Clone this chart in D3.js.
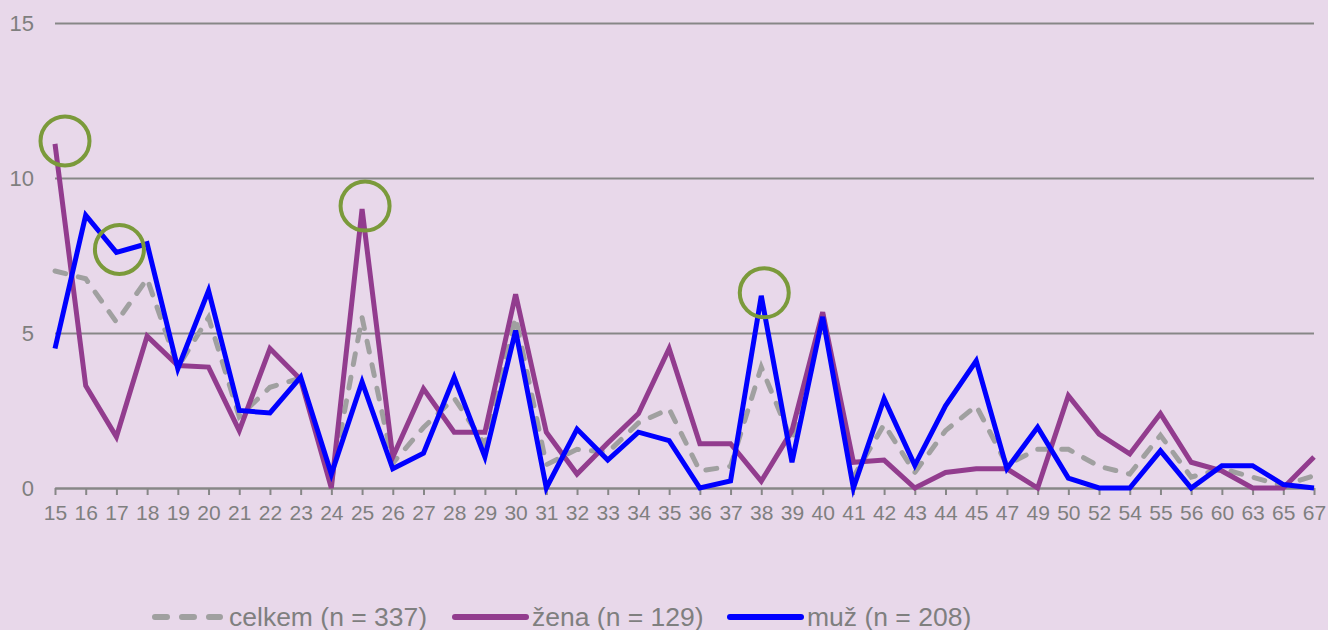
<!DOCTYPE html>
<html>
<head>
<meta charset="utf-8">
<script src="https://cdn.jsdelivr.net/npm/d3@7"></script>
<style>
  html, body { margin: 0; padding: 0; background: #e8d8ea; }
  svg { display: block; font-family: "Liberation Sans", Arial, sans-serif; }
</style>
</head>
<body>
<svg id="chart" width="1328" height="630"></svg>
<script>
// age categories on the x axis
var ages = ["15","16","17","18","19","20","21","22","23","24","25","26","27","28","29","30",
  "31","32","33","34","35","36","37","38","39","40","41","42","43","44","45","47","49","50",
  "52","54","55","56","60","63","65","67"];

// series values (%)
var celkem = [7.0,6.75,5.35,6.75,3.9,5.5,2.3,3.25,3.55,0.2,5.5,0.8,1.95,2.9,1.4,5.5,
  0.75,1.25,1.15,2.1,2.55,0.55,0.7,3.9,1.5,5.6,0.35,2.05,0.5,1.85,2.65,0.75,1.25,1.25,
  0.7,0.45,1.7,0.35,0.62,0.35,0.07,0.4];
var zena = [11.1,3.3,1.65,4.9,3.95,3.9,1.85,4.5,3.5,0,9.0,1.0,3.2,1.8,1.8,6.25,
  1.8,0.45,1.45,2.4,4.5,1.43,1.43,0.22,1.85,5.67,0.83,0.9,0,0.5,0.62,0.62,0,2.98,
  1.74,1.1,2.4,0.83,0.55,0,0,1.0];
var muz = [4.5,8.8,7.6,7.88,3.85,6.37,2.5,2.42,3.58,0.45,3.42,0.62,1.12,3.57,1.0,5.08,
  0,1.9,0.9,1.8,1.53,0,0.23,6.2,0.83,5.52,0,2.88,0.73,2.65,4.1,0.62,1.96,0.32,
  0,0,1.2,0,0.72,0.72,0.11,0];

var yTicks = [0, 5, 10, 15];

// highlighted peaks
var highlights = [
  { age: "15", series: "zena" },
  { age: "17", series: "muz" },
  { age: "25", series: "zena" },
  { age: "38", series: "muz" }
];

var series = [
  { key: "celkem", label: "celkem (n = 337)", values: celkem, color: "#a0a0a0", dash: "11,13" },
  { key: "zena",   label: "žena (n = 129)",   values: zena,   color: "#923c8e", dash: null },
  { key: "muz",    label: "muž (n = 208)",    values: muz,    color: "#0000ff", dash: null }
];

var svg = d3.select("#chart");
var plotLeft = 55, plotRight = 1314, plotTop = 23, plotBottom = 488;

var x = d3.scalePoint().domain(ages).range([plotLeft, plotRight]).padding(0);
var y = d3.scaleLinear().domain([0, 15]).range([plotBottom, plotTop]);

// horizontal gridlines + y labels
var yAxis = svg.append("g")
  .attr("transform", "translate(" + plotLeft + ",0)")
  .call(d3.axisLeft(y).tickValues(yTicks).tickSize(-(plotRight - plotLeft)).tickPadding(21));
yAxis.select(".domain").remove();
yAxis.selectAll("line").attr("stroke", "#878787").attr("stroke-width", 2);
yAxis.selectAll("text").attr("fill", "#7f7f7f").style("font-size", "22px");

// x axis with ticks below
var xAxis = svg.append("g")
  .attr("transform", "translate(0," + plotBottom + ")")
  .call(d3.axisBottom(x).tickSize(7).tickPadding(10).tickSizeOuter(0));
xAxis.select(".domain").attr("stroke", "#878787").attr("stroke-width", 2);
xAxis.selectAll("line").attr("stroke", "#878787").attr("stroke-width", 2);
xAxis.selectAll("text").attr("fill", "#7f7f7f").style("font-size", "21px");

var line = d3.line()
  .x(function(d, i) { return x(ages[i]); })
  .y(function(d) { return y(d); });

svg.selectAll(".series")
  .data(series)
  .enter()
  .append("path")
  .attr("class", "series")
  .attr("d", function(d) { return line(d.values); })
  .attr("fill", "none")
  .attr("stroke", function(d) { return d.color; })
  .attr("stroke-width", 5)
  .attr("stroke-linejoin", "miter")
  .attr("stroke-linecap", function(d) { return d.dash ? "round" : "butt"; })
  .attr("stroke-dasharray", function(d) { return d.dash; });

// green circles on the peaks
var byKey = { celkem: celkem, zena: zena, muz: muz };
svg.selectAll(".hl")
  .data(highlights)
  .enter()
  .append("circle")
  .attr("class", "hl")
  .attr("cx", function(d) { return Math.max(x(d.age) + 3, plotLeft + 10); })
  .attr("cy", function(d) { return y(byKey[d.series][ages.indexOf(d.age)]) - 3; })
  .attr("r", 24.5)
  .attr("fill", "none")
  .attr("stroke", "#7b9a3b")
  .attr("stroke-width", 4);

// legend
var legendX = [152, 455, 730];
var legend = svg.selectAll(".legend")
  .data(series)
  .enter()
  .append("g")
  .attr("class", "legend")
  .attr("transform", function(d, i) { return "translate(" + legendX[i] + ",617)"; });
legend.append("line")
  .attr("x1", function(d) { return d.dash ? 3 : 0; })
  .attr("x2", function(d) { return d.dash ? 68 : 71; })
  .attr("stroke", function(d) { return d.color; })
  .attr("stroke-width", 6)
  .attr("stroke-linecap", "round")
  .attr("stroke-dasharray", function(d) { return d.dash ? "12,15" : null; });
legend.append("text")
  .attr("x", 77)
  .attr("y", 9)
  .attr("fill", "#7f7f7f")
  .style("font-size", "26.5px")
  .text(function(d) { return d.label; });
</script>
</body>
</html>
